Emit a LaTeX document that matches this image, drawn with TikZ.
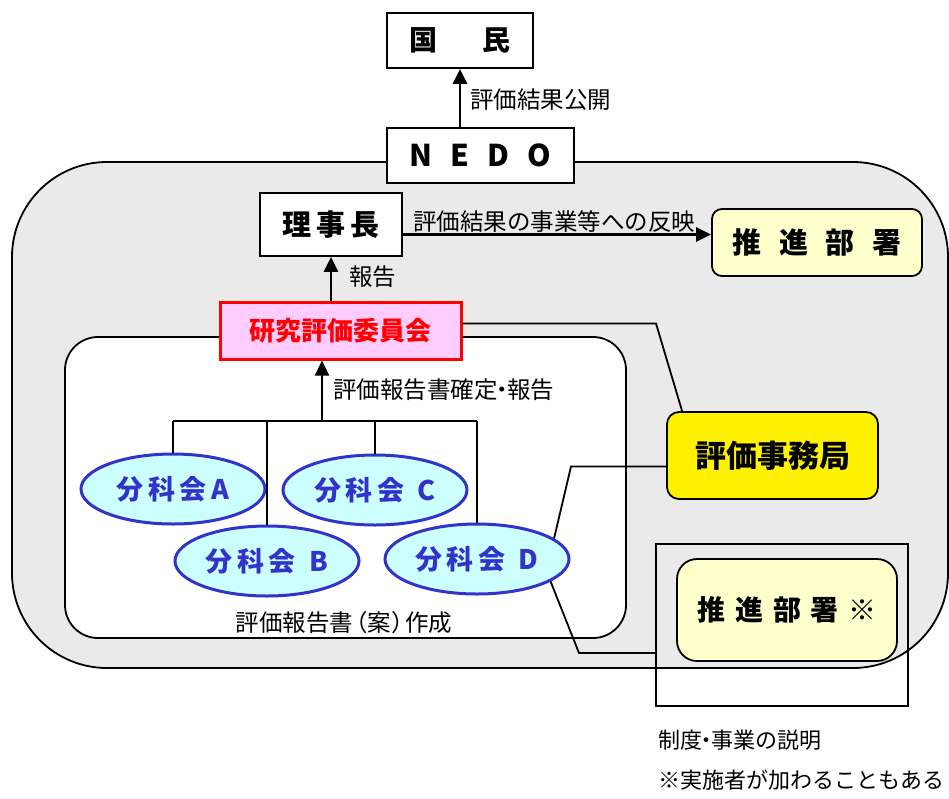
\documentclass[tikz,border=0pt]{standalone}
\usepackage{fontspec}
\setmainfont{Noto Sans CJK JP}
\usetikzlibrary{
  arrows.meta,
  shapes.geometric,
}
\definecolor{areagray}{HTML}{EAEAEA}
\definecolor{paleyellow}{HTML}{FFFFCC}
\definecolor{pinkfill}{HTML}{FFCCFF}
\definecolor{bunkablue}{HTML}{3333CC}
\definecolor{bunkacyan}{HTML}{CCFFFF}

\begin{document}
\begin{tikzpicture}[
  x=1pt, y=-1pt,
  box/.style={draw, line width=1.8pt, fill=white, inner sep=0pt, font=\bfseries\fontsize{28}{28}\selectfont},
  dept/.style={box, rounded corners=10pt, fill=paleyellow},
  bunka/.style={ellipse, draw=bunkablue, line width=3pt, fill=bunkacyan, text=bunkablue, inner sep=0pt,
    minimum width=184pt, minimum height=70pt, font=\bfseries\fontsize{27}{27}\selectfont},
  lbl/.style={inner sep=0pt, font=\fontsize{23.5}{23.5}\selectfont},
  arr/.style={line width=2.4pt, -{Triangle[length=15pt,width=14pt]}},
  link/.style={line width=1.8pt},
]
\useasboundingbox (0,0) rectangle (949,798);
\node[draw, line width=1.8pt, fill=areagray, rounded corners=95pt, minimum width=936pt, minimum height=506pt] (area) at (480,415) {};
\node[box, minimum width=146pt, minimum height=55pt] (kokumin) at (460,40.5) {国\hspace{1.6em}民};
\node[box, minimum width=187pt, minimum height=55pt, font=\bfseries\fontsize{30}{30}\selectfont] (nedo) at (480.5,155.5) {N\hspace{.6em}E\hspace{.6em}D\hspace{.6em}O};
\node[box, minimum width=142pt, minimum height=63pt, font=\bfseries\fontsize{29}{29}\selectfont] (rijicho) at (331,224.5) {理\,事\,長};
\node[dept, minimum width=210pt, minimum height=67pt, font=\bfseries\fontsize{29}{29}\selectfont] (suishin) at (817,242.5) {推\hspace{.6em}進\hspace{.6em}部\hspace{.6em}署};
\node[draw, line width=1.8pt, fill=white, rounded corners=33pt, minimum width=561pt, minimum height=301pt] (inner) at (345.5,487.5) {};
\node[box, draw=red, line width=3pt, fill=pinkfill, text=red, minimum width=241pt, minimum height=57pt, font=\bfseries\fontsize{26}{26}\selectfont] (iinkai) at (340.5,330.5) {研究評価委員会};
\node[box, rounded corners=12pt, fill=yellow, minimum width=211pt, minimum height=87pt, font=\bfseries\fontsize{31}{31}\selectfont] (jimukyoku) at (772.5,455.5) {評価事務局};
\node[dept, rounded corners=20pt, minimum width=220pt, minimum height=102pt] (suishin2) at (787,610) {推\hspace{.35em}進\hspace{.35em}部\hspace{.35em}署\hspace{.35em}※};
\node[draw, line width=1.8pt, minimum width=252pt, minimum height=162pt] (explbox) at (782,625) {};
\node[bunka] (bunA) at (173,489) {分\,科\,会\,A};
\node[bunka] (bunC) at (375,490) {分\,科\,会\enspace C};
\node[bunka] (bunB) at (267,561) {分\,科\,会\enspace B};
\node[bunka] (bunD) at (477,559) {分\,科\,会\enspace D};

\draw[arr] (kokumin.south |- nedo.north) -- (kokumin.south);
\node[lbl, anchor=west] (koukai) at (470,100) {評価結果公開};
\coordinate (r1) at ([yshift=-10pt]rijicho.east);
\draw[arr] (r1) -- (r1 -| suishin.west);
\node[lbl, anchor=west] (hanei) at (413,222) {評価結果の事業等への反映};
\draw[arr] (rijicho.south |- iinkai.north) -- (rijicho.south);
\node[lbl, anchor=west] (houkoku) at (349,277) {報告};

\coordinate (brk) at (322,421);
\draw[arr] (brk) -- (brk |- iinkai.south);
\node[lbl, anchor=west] (kakutei) at (333,390) {評価報告書確定\kern-.3em・\kern-.3em報告};
\draw[link] (bunA.north |- brk) -- (bunD.north |- brk);
\foreach \b in {bunA,bunB,bunC,bunD}
  \draw[link] (\b.north) -- (\b.north |- brk);
\node[lbl] (sakusei) at (344,623) {評価報告書\kern-.4em（案）\kern-.4em作成};

\coordinate (j1) at ([yshift=7pt]iinkai.east);
\draw[link] (j1) -- (656,0 |- j1) -- ([xshift=16pt]jimukyoku.north west);
\coordinate (j2) at ([yshift=-11pt]jimukyoku.west);
\draw[link] (j2) -- (571,0 |- j2) -- (bunD.15);
\coordinate (d2) at (579,653);
\draw[link] (bunD.-17) -- (d2) -- (d2 -| explbox.west);

\node[lbl, anchor=west, font=\fontsize{22}{22}\selectfont] (setsumei) at (658,740) {制度\kern-.3em・\kern-.3em事業の説明};
\node[lbl, anchor=west, font=\fontsize{22}{22}\selectfont] (chuki) at (658,780) {※実施者が加わることもある};
\end{tikzpicture}
\end{document}
